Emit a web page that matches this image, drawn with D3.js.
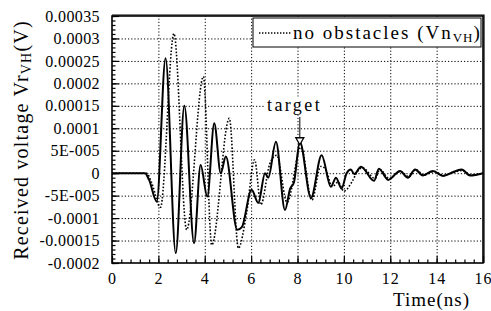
<!DOCTYPE html>
<html lang="en">
<head>
  <meta charset="UTF-8">
  <title>Received voltage</title>
  <style>
    body { margin: 0; background: #fff; }
    #chart { display: block; }
    text { font-family: "Liberation Serif", "DejaVu Serif", serif; fill: #000; }
    .grid line { stroke: #000; stroke-width: 1; stroke-dasharray: 1.2 2; }
    .grid path { display: none; }
    .axis path { display: none; }
    .axis line { stroke: #000; stroke-width: 1.2; }
  </style>
</head>
<body>
<svg id="chart" width="491" height="311"></svg>
<script src="https://d3js.org/d3.v7.min.js"></script>
<script>
  // tick labels
  const timeTicks = [0, 2, 4, 6, 8, 10, 12, 14, 16];
  const voltTicks = [-0.0002, -0.00015, -0.0001, -0.00005, 0, 0.00005, 0.0001, 0.00015, 0.0002, 0.00025, 0.0003, 0.00035];
  const voltLabels = ["-0.0002", "-0.00015", "-0.0001", "-5E-005", "0", "5E-005", "0.0001", "0.00015", "0.0002", "0.00025", "0.0003", "0.00035"];

  // with target (solid line)
  const targetTime = [0, 1.0, 1.42, 1.6, 1.93, 2.31, 2.75, 3.12, 3.54, 3.82, 4.11, 4.41, 4.69, 4.91, 5.4, 5.6, 6.02, 6.31, 6.6, 6.74, 7.07, 7.46, 7.68, 7.85, 8.1, 8.58, 9.04, 9.44, 9.66, 9.9, 10.12, 10.3, 10.45, 10.74, 11.3, 11.51, 11.91, 12.42, 12.76, 13.07, 13.41, 13.84, 14.27, 14.6, 15.08, 15.44, 16];
  const targetVolt = [0, 0, 0, -0.000015, -0.000063, 0.000256, -0.000178, 0.00015, -0.000156, 0.000018, -0.000052, 0.000111, 0.0, 0.000037, -0.000126, -0.00012, -0.000037, -0.000066, 0.0, -0.00001, 0.00007, -0.000082, -0.000035, -0.00002, 0.00007, -0.000055, 0.00004, -0.00003, -0.00001, -0.000034, 0.0, 0.000008, -0.000002, 0.0000145, -0.000017, 0.00001, -0.000015, 0.000005, -0.00001, 0.000008, -0.000005, 0.000005, -0.000006, 0.0, 0.000008, -0.000005, 0];

  // no obstacles (dotted line)
  const freeTime = [0, 1.5, 1.7, 2.09, 2.67, 3.22, 3.94, 4.3, 5.06, 5.45, 5.8, 6.15, 6.42, 6.8, 7.1, 7.55, 8.15, 8.62, 9.0, 9.2, 9.5, 9.75, 10.0, 10.34, 10.6, 10.8, 11.35, 11.55, 11.95, 12.45, 12.8, 13.1, 13.45, 13.9, 14.3, 14.65, 15.1, 15.5, 16];
  const freeVolt = [0, 0, -0.00002, -0.000076, 0.000311, -0.000126, 0.000215, -0.00016, 0.000122, -0.000167, -0.00009, 0.00003, -0.00007, 0.00002, 0.00004, -0.000065, 0.000058, -0.00006, 0.000015, 0.00001, -0.00003, -0.00002, -0.00004, -0.00002, 0.000005, 0.000012, -0.000012, 0.000008, -0.000012, 0.000004, -0.000008, 0.000008, -0.000004, 0.000004, -0.000005, 0, 0.000006, -0.000004, 0];

  // target marker
  const markTime = 8.1;
  const markVolt = 0.00007;

  const svg = d3.select('#chart');
  const m = { left: 112, right: 483, top: 16, bottom: 263 };

  const x = d3.scaleLinear().domain([0, 16]).range([m.left, m.right]);
  const y = d3.scaleLinear().domain([-0.0002, 0.00035]).range([m.bottom, m.top]);

  // grid
  svg.append('g').attr('class', 'grid')
    .attr('transform', `translate(0,${m.bottom})`)
    .call(d3.axisBottom(x).tickValues(timeTicks.slice(1, -1)).tickSize(-(m.bottom - m.top)).tickFormat(''));
  svg.append('g').attr('class', 'grid')
    .attr('transform', `translate(${m.left},0)`)
    .call(d3.axisLeft(y).tickValues(voltTicks.slice(1, -1)).tickSize(-(m.right - m.left)).tickFormat(''));

  // minor ticks
  svg.append('g').attr('class', 'axis')
    .attr('transform', `translate(0,${m.bottom})`)
    .call(d3.axisBottom(x).tickValues(d3.range(0, 40).map(k => k * 0.4)).tickSize(-3.5).tickFormat(''));
  svg.append('g').attr('class', 'axis')
    .attr('transform', `translate(${m.left},0)`)
    .call(d3.axisLeft(y).tickValues(d3.range(-20, 36).map(k => k * 1e-5)).tickSize(-3.5).tickFormat(''));

  // major ticks + labels
  svg.append('g').attr('class', 'axis')
    .attr('transform', `translate(0,${m.bottom})`)
    .call(d3.axisBottom(x).tickValues(timeTicks).tickSize(-7).tickPadding(10))
    .selectAll('text').style('font-size', '16px').style('letter-spacing', '1px');
  svg.append('g').attr('class', 'axis')
    .attr('transform', `translate(${m.left},0)`)
    .call(d3.axisLeft(y).tickValues(voltTicks).tickSize(-7).tickPadding(12)
      .tickFormat((d, i) => voltLabels[i]))
    .selectAll('text').style('font-size', '16px').style('letter-spacing', '0.4px');

  // frame
  svg.append('rect')
    .attr('x', m.left).attr('y', m.top)
    .attr('width', m.right - m.left).attr('height', m.bottom - m.top)
    .attr('fill', 'none').attr('stroke', '#000').attr('stroke-width', 1.6);
  svg.append('path')
    .attr('d', `M${m.left},${m.top - 1}H${m.right + 1}V${m.bottom}`)
    .attr('fill', 'none').attr('stroke', '#000').attr('stroke-width', 1.2);

  // series
  const line = d3.line().curve(d3.curveMonotoneX).x(d => x(d[0])).y(d => y(d[1]));
  svg.append('path')
    .datum(d3.zip(freeTime, freeVolt))
    .attr('d', line)
    .attr('fill', 'none').attr('stroke', '#000').attr('stroke-width', 1.6)
    .attr('stroke-dasharray', '1.6 1.8');
  svg.append('path')
    .datum(d3.zip(targetTime, targetVolt))
    .attr('d', line)
    .attr('fill', 'none').attr('stroke', '#000').attr('stroke-width', 2);

  // target annotation
  const mx = x(markTime), my = y(markVolt);
  svg.append('line')
    .attr('x1', mx).attr('x2', mx)
    .attr('y1', y(0.000125)).attr('y2', my - 4)
    .attr('stroke', '#000').attr('stroke-width', 1);
  svg.append('path')
    .attr('d', `M${mx - 4},${my - 4}H${mx + 4}L${mx},${my + 3}Z`)
    .attr('fill', '#fff').attr('stroke', '#000').attr('stroke-width', 1.3);
  svg.append('rect')
    .attr('x', 264).attr('y', y(0.00015) - 9).attr('width', 66).attr('height', 17)
    .attr('fill', '#fff');
  svg.append('text')
    .attr('x', 267).attr('y', y(0.00015))
    .attr('dy', '0.3em')
    .style('font-size', '18px').style('letter-spacing', '2.4px')
    .text('target');

  // legend
  svg.append('rect')
    .attr('x', 253).attr('y', 18).attr('width', 228).attr('height', 29)
    .attr('fill', '#fff').attr('stroke', '#000').attr('stroke-width', 1);
  svg.append('line')
    .attr('x1', 259).attr('x2', 291).attr('y1', 33).attr('y2', 33)
    .attr('stroke', '#000').attr('stroke-width', 1.3).attr('stroke-dasharray', '1.4 1.6');
  const lg = svg.append('text')
    .attr('x', 293).attr('y', 33).attr('dy', '0.32em')
    .style('font-size', '19px').style('letter-spacing', '2px');
  lg.append('tspan').text('no obstacles (Vn');
  lg.append('tspan').attr('dy', 3).style('font-size', '13px').style('letter-spacing', '1px').text('VH');
  lg.append('tspan').attr('dy', -3).text(')');

  // axis titles
  svg.append('text')
    .attr('x', 393).attr('y', 300).attr('dy', '0.32em')
    .style('font-size', '19px').style('letter-spacing', '1px')
    .text('Time(ns)');
  const yt = svg.append('text')
    .attr('transform', 'translate(22,140) rotate(-90)')
    .attr('text-anchor', 'middle').attr('dy', '0.32em')
    .style('font-size', '20px').style('letter-spacing', '1.2px');
  yt.append('tspan').text('Received voltage Vr');
  yt.append('tspan').attr('dy', 3).style('font-size', '14px').text('VH');
  yt.append('tspan').attr('dy', -3).text('(V)');
</script>
</body>
</html>
